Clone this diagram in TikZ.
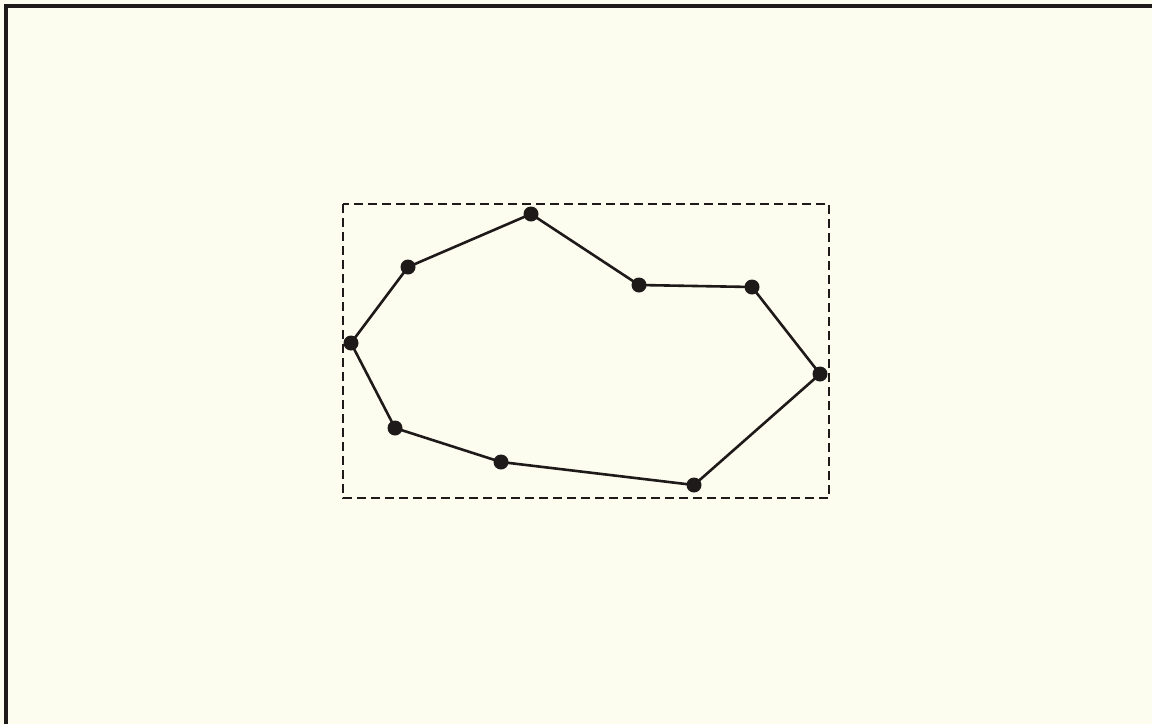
\documentclass[tikz,border=0pt]{standalone}
\definecolor{paper}{HTML}{FCFCEF}
\definecolor{ink}{HTML}{1E1A1A}
\tikzset{
  vertex/.style={circle, fill=ink, draw=none, minimum size=15pt, inner sep=0pt},
  edge/.style={draw=ink, line width=2.6pt},
  frame/.style={draw=ink, line width=3.5pt},
  bbox/.style={draw=ink, line width=2.6pt, dash pattern=on 9pt off 5pt}
}
\begin{document}
\begin{tikzpicture}[x=1pt,y=-1pt]
\fill[paper] (0,0) rectangle (1152,724);
\useasboundingbox (0,0) rectangle (1152,724);
\draw[frame] (6,724) -- (6,6) -- (1152,6);
\draw[bbox] (343,204) rectangle (829,498);
\node[vertex] (a) at (531,214) {};
\node[vertex] (b) at (408,267) {};
\node[vertex] (c) at (351,343) {};
\node[vertex] (d) at (395,428) {};
\node[vertex] (e) at (501,462) {};
\node[vertex] (f) at (694,485) {};
\node[vertex] (g) at (820,374) {};
\node[vertex] (h) at (752,287) {};
\node[vertex] (i) at (639,285) {};
\draw[edge] (a.center) -- (b.center) -- (c.center) -- (d.center) -- (e.center) -- (f.center) -- (g.center) -- (h.center) -- (i.center) -- (a.center);
\end{tikzpicture}
\end{document}
